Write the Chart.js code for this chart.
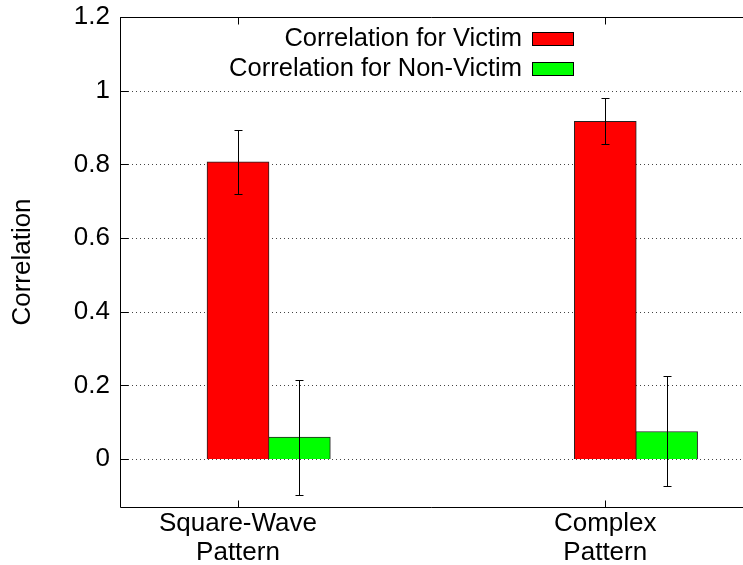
<!DOCTYPE html>
<html>
<head>
<meta charset="UTF-8" />
<script src="https://cdn.jsdelivr.net/npm/chart.js@4"></script>
<style>
  body { margin: 0; background: #fff; }
  #wrap { width: 743px; height: 565px; }
</style>
</head>
<body>
<div id="wrap"><canvas id="chart" width="743" height="565"></canvas></div>
<script>
// data
const categories = [["Square-Wave", "Pattern"], ["Complex", "Pattern"]];
const seriesNames = ["Correlation for Victim", "Correlation for Non-Victim"];
const victim = [0.807, 0.917];
const victimLow = [0.720, 0.854];
const victimHigh = [0.892, 0.980];
const nonVictim = [0.060, 0.075];
const nonVictimLow = [-0.097, -0.073];
const nonVictimHigh = [0.216, 0.226];
const yTicks = [0, 0.2, 0.4, 0.6, 0.8, 1, 1.2];

const FONT = "'Liberation Sans', Arial, Helvetica, sans-serif";
const colors = ["#ff0000", "#00ff00"];
const GREEN_SHIFT = 0.167; // second bar sits right of the first one

const errLow = [victimLow, nonVictimLow];
const errHigh = [victimHigh, nonVictimHigh];

// frame, dotted grid, inward ticks
const framePlugin = {
  id: "frame",
  beforeDatasetsDraw(chart) {
    const { ctx, chartArea: a, scales } = chart;
    const y = scales.y;
    ctx.save();
    ctx.strokeStyle = "#444";
    ctx.lineWidth = 1;
    ctx.setLineDash([1, 3]);
    yTicks.forEach((t) => {
      const py = Math.round(y.getPixelForValue(t)) + 0.5;
      ctx.beginPath();
      ctx.moveTo(a.left, py);
      ctx.lineTo(a.right, py);
      ctx.stroke();
    });
    ctx.restore();
  },
  afterDatasetsDraw(chart) {
    const { ctx, chartArea: a, scales } = chart;
    const y = scales.y, x = scales.x;
    ctx.save();
    ctx.strokeStyle = "#000";
    ctx.lineWidth = 1;
    const L = Math.round(a.left) + 0.5;
    const T = Math.round(a.top) + 0.5;
    const B = Math.round(a.bottom) + 0.5;
    ctx.beginPath();
    ctx.moveTo(a.right, T);
    ctx.lineTo(L, T);
    ctx.lineTo(L, B);
    ctx.lineTo(a.right, B);
    ctx.stroke();
    // inward ticks
    ctx.beginPath();
    yTicks.forEach((t) => {
      const py = Math.round(y.getPixelForValue(t)) + 0.5;
      ctx.moveTo(L, py);
      ctx.lineTo(L + 8, py);
    });
    categories.forEach((c, i) => {
      const px = Math.round(x.getPixelForValue(i)) + 0.5;
      ctx.moveTo(px, B);
      ctx.lineTo(px, B - 7);
      ctx.moveTo(px, T);
      ctx.lineTo(px, T + 7);
    });
    ctx.stroke();

    // error bars
    chart.data.datasets.forEach((ds, i) => {
      const meta = chart.getDatasetMeta(i);
      meta.data.forEach((bar, j) => {
        const px = Math.round(bar.x) + 0.5;
        const lo = Math.round(y.getPixelForValue(errLow[i][j])) + 0.5;
        const hi = Math.round(y.getPixelForValue(errHigh[i][j])) + 0.5;
        ctx.beginPath();
        ctx.moveTo(px, lo);
        ctx.lineTo(px, hi);
        ctx.moveTo(px - 4, lo);
        ctx.lineTo(px + 4, lo);
        ctx.moveTo(px - 4, hi);
        ctx.lineTo(px + 4, hi);
        ctx.stroke();
      });
    });

    // legend, inside top right
    ctx.font = "25.5px " + FONT;
    ctx.textAlign = "right";
    ctx.textBaseline = "middle";
    ctx.fillStyle = "#000";
    chart.data.datasets.forEach((ds, i) => {
      const cy = 39 + i * 30;
      ctx.fillText(ds.label, 522, cy);
      ctx.fillStyle = colors[i];
      ctx.fillRect(532, cy - 7, 42, 14);
      ctx.strokeStyle = "#000";
      ctx.strokeRect(532.5, cy - 6.5, 41, 13);
      ctx.fillStyle = "#000";
    });
    ctx.restore();
  },
};

new Chart(document.getElementById("chart"), {
  type: "bar",
  data: {
    datasets: [
      {
        label: seriesNames[0],
        data: victim.map((v, i) => ({ x: i, y: v })),
        backgroundColor: colors[0],
        borderColor: "#222",
        borderWidth: 1,
        barThickness: 62,
        grouped: false,
      },
      {
        label: seriesNames[1],
        data: nonVictim.map((v, i) => ({ x: i + GREEN_SHIFT, y: v })),
        backgroundColor: colors[1],
        borderColor: "#222",
        borderWidth: 1,
        barThickness: 62,
        grouped: false,
      },
    ],
  },
  options: {
    responsive: false,
    animation: false,
    layout: { padding: { left: 0, right: 0, top: 17, bottom: 0 } },
    plugins: { legend: { display: false }, tooltip: { enabled: false } },
    scales: {
      x: {
        type: "linear",
        min: -0.3213,
        max: 1.375,
        offset: false,
        grid: { display: false, drawTicks: false, offset: false },
        border: { display: false },
        afterBuildTicks: (s) => { s.ticks = categories.map((c, i) => ({ value: i })); },
        afterFit: (s) => { s.height = 58; s.paddingLeft = 0; s.paddingRight = 0; },
        ticks: {
          autoSkip: false,
          maxRotation: 0,
          padding: 3,
          color: "#000",
          font: { family: FONT, size: 26, lineHeight: 1.09 },
          callback: (v) => categories[Math.round(v)],
        },
      },
      y: {
        min: -0.13,
        max: 1.2,
        grid: { display: false, drawTicks: false },
        border: { display: false },
        afterBuildTicks: (s) => { s.ticks = yTicks.map((v) => ({ value: v })); },
        afterFit: (s) => { s.width = 120; s.paddingTop = 0; s.paddingBottom = 0; },
        ticks: {
          padding: 10,
          color: "#000",
          font: { family: FONT, size: 26 },
          callback: (v) => String(Math.round(v * 10) / 10),
        },
        title: {
          display: true,
          text: "Correlation",
          color: "#000",
          font: { family: FONT, size: 26 },
          padding: { top: 7, bottom: 0 },
        },
      },
    },
  },
  plugins: [framePlugin],
});
</script>
</body>
</html>
